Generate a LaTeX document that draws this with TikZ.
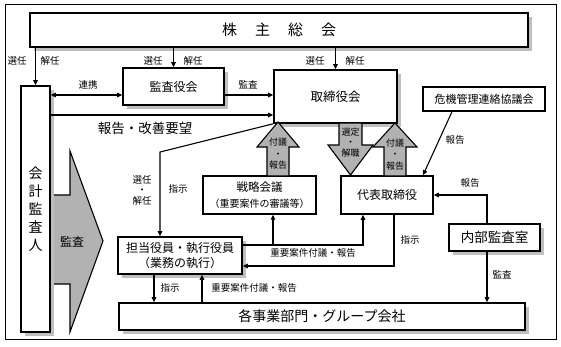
\documentclass[tikz,border=0pt]{standalone}
\usepackage{fontspec}
\setmainfont{Noto Sans CJK JP}
\usepackage{tikz}
\usetikzlibrary{calc, arrows.meta, shadows}

\tikzset{
  box/.style={draw, line width=1.6pt, fill=white, inner sep=0pt, align=center},
  shbox/.style={box, drop shadow={shadow xshift=3.5pt, shadow yshift=-3.5pt, fill=black!25, opacity=1}},
  lbl/.style={inner sep=0pt, align=center, font=\fontsize{9.5pt}{10.5pt}\selectfont},
  blklbl/.style={inner sep=0pt, align=center, font=\fontsize{9pt}{11.5pt}\selectfont},
  blk/.style={draw, line width=1.1pt, fill=black!30, line join=miter},
}

\begin{document}
\begin{tikzpicture}[x=1pt, y=-1pt, line width=1.1pt, >={Triangle[length=5pt,width=4.5pt]}]
  \useasboundingbox (0,0) rectangle (561,346);
  % cornice
  \draw[line width=0.8pt] (5,4) rectangle (556,339);

  % freccia grigia
  \draw[blk] (50,195) -- (70,195) -- (70,151) -- (103,241) -- (70,332) -- (70,284) -- (50,284);
  \node[inner sep=0pt, font=\fontsize{12pt}{14pt}\selectfont] (kansaarrow) at (72,242) {監査};

  % riquadri
  \node[shbox, minimum width=498pt, minimum height=34pt, font=\fontsize{15pt}{18pt}\selectfont] (agm) at (279,30)
    {株\hspace{18pt}主\hspace{18pt}総\hspace{18pt}会};
  \node[shbox, minimum width=29pt, minimum height=246pt, font=\fontsize{14pt}{18pt}\selectfont] (auditor) at (35.5,209)
    {会\\計\\監\\査\\人};
  \node[shbox, minimum width=101pt, minimum height=37pt, font=\fontsize{12pt}{14pt}\selectfont] (kansa) at (173.5,86.5) {監査役会};
  \node[shbox, minimum width=123pt, minimum height=53pt, font=\fontsize{12.5pt}{15pt}\selectfont] (board) at (335.5,96.5) {取締役会};
  \node[box, line width=1.3pt, minimum width=122pt, minimum height=24pt, font=\fontsize{11pt}{13pt}\selectfont] (crisis) at (484,99) {危機管理連絡協議会};
  \node[box, minimum width=92pt, minimum height=38pt, font=\fontsize{12pt}{14pt}\selectfont] (ceo) at (387,195) {代表取締役};
  \node[box, line width=1.3pt, minimum width=113pt, minimum height=38pt, font=\fontsize{11.5pt}{16pt}\selectfont] (strategy) at (259.5,195)
    {戦略会議\\{\fontsize{10pt}{12pt}\selectfont （重要案件の審議等）}};
  \node[shbox, minimum width=124pt, minimum height=37pt, font=\fontsize{12pt}{15pt}\selectfont] (exec) at (180,255.5)
    {担当役員・執行役員\\（業務の執行）};
  \node[shbox, minimum width=406pt, minimum height=27pt, font=\fontsize{14pt}{16pt}\selectfont] (depts) at (322,316.5) {各事業部門・グループ会社};
  \node[shbox, minimum width=91pt, minimum height=27pt, font=\fontsize{13.5pt}{16pt}\selectfont] (audit) at (494.5,237.5) {内部監査室};

  % frecce a blocco
  \draw[blk] (267,176) -- (267,147) -- (257,147) -- (278,122) -- (299,147) -- (289,147) -- (289,176) -- cycle;
  \node[blklbl] (upA) at (278,154) {付議\\・\\報告};
  \draw[blk] (339,123) -- (339,145) -- (328,145) -- (350.5,175) -- (373,145) -- (362,145) -- (362,123) -- cycle;
  \node[blklbl, font=\fontsize{9pt}{10.5pt}\selectfont] (downB) at (350.5,142.5) {選定\\・\\解職};
  \draw[blk] (384,176) -- (384,147) -- (373,147) -- (395,123) -- (417,147) -- (406,147) -- (406,176) -- cycle;
  \node[blklbl] (upC) at (395,154.5) {付議\\・\\報告};

  % collegamenti
  \draw[->] (agm.south -| auditor) -- (auditor.north);
  \node[lbl] (sel1) at (17,61) {選任};
  \node[lbl] (dis1) at (50,61) {解任};
  \draw[->] (agm.south -| kansa) -- (kansa.north);
  \node[lbl] (sel2) at (153,61) {選任};
  \node[lbl] (dis2) at (193,61) {解任};
  \draw[->] (agm.south -| board) -- (board.north);
  \node[lbl] (sel3) at (315,61) {選任};
  \node[lbl] (dis3) at (355,61) {解任};

  \draw[<->] (auditor.east |- 0,95) -- (kansa.west |- 0,95);
  \node[lbl] (renkei) at (88,85) {連携};
  \draw[->] (kansa.east |- 0,95) -- (board.west |- 0,95);
  \node[lbl] (kansa1) at (248,85) {監査};
  \draw[->] (auditor.east |- 0,115) -- (board.west |- 0,115);
  \node[inner sep=0pt, font=\fontsize{13.5pt}{16pt}\selectfont] (request) at (145,128) {報告・改善要望};

  \draw[->] ([xshift=-32pt]crisis.south) -- ([xshift=36pt]ceo.north);
  \node[lbl] (rep1) at (455,140) {報告};
  \coordinate (iaX) at ([xshift=-7.5pt]audit.north);
  \draw[->] (iaX) |- (ceo.east);
  \node[lbl] (rep2) at (470,183) {報告};
  \coordinate (iaY) at ([xshift=-7.5pt]audit.south);
  \draw[->] (iaY) -- (iaY |- depts.north);
  \node[lbl] (kansa2) at (502,275) {監査};

  \coordinate (bend) at (160,152);
  \draw[->] (board.south west) -- (bend) -- (bend |- exec.north);
  \node[lbl] (seldis) at (142,190) {選任\\・\\解任};
  \node[lbl] (order1) at (178,189) {指示};

  \coordinate (sA) at ([xshift=13.5pt]strategy.south);
  \coordinate (cA) at ([xshift=-24pt]ceo.south);
  \draw[->] (exec.east |- 0,245) -| (cA);
  \draw[->] (sA |- 0,245) -- (sA);
  \node[lbl] (fugi1) at (313,253) {重要案件付議・報告};
  \coordinate (cB) at ([xshift=7pt]ceo.south);
  \draw[->] (cB) |- (exec.east |- 0,266);
  \node[lbl] (order2) at (410,240) {指示};

  \coordinate (eA) at ([xshift=-26pt]exec.south);
  \draw[->] (eA) -- (eA |- depts.north);
  \node[lbl] (order3) at (170,288) {指示};
  \coordinate (eB) at ([xshift=22pt]exec.south);
  \draw[->] (eB |- depts.north) -- (eB);
  \node[lbl] (fugi2) at (254,288) {重要案件付議・報告};
\end{tikzpicture}
\end{document}
